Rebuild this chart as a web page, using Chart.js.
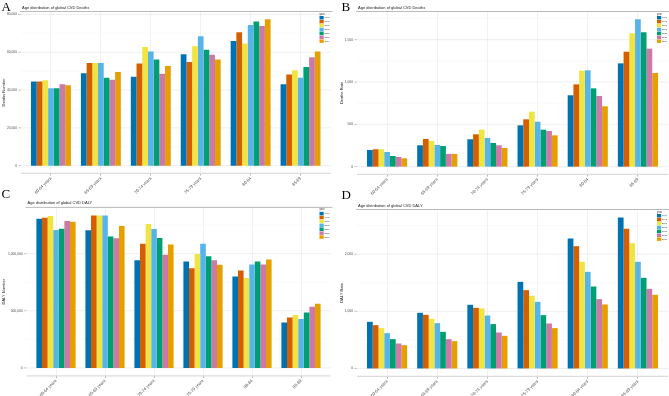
<!DOCTYPE html>
<html>
<head>
<meta charset="utf-8">
<script src="https://cdn.jsdelivr.net/npm/chart.js@4.4.1/dist/chart.umd.min.js"></script>
<style>
  html, body { margin: 0; padding: 0; background: #fff; }
  body { width: 669px; height: 396px; position: relative; overflow: hidden; }
  canvas { position: absolute; }
  .tag { position: absolute; font-family: 'Liberation Serif', 'DejaVu Serif', serif; font-size: 13px; line-height: 13px; color: #000; }
</style>
</head>
<body>
<canvas id="deathsNumber" width="335" height="197" style="left:0;top:0"></canvas>
<canvas id="deathsRate" width="334" height="197" style="left:335px;top:0"></canvas>
<canvas id="dalyNumber" width="335" height="199" style="left:0;top:197px"></canvas>
<canvas id="dalyRate" width="334" height="199" style="left:335px;top:197px"></canvas>
<div class="tag" style="left:1.5px;top:-0.5px">A</div>
<div class="tag" style="left:341.5px;top:-0.5px">B</div>
<div class="tag" style="left:1.5px;top:187px">C</div>
<div class="tag" style="left:341.5px;top:188px">D</div>
<script>
const years = ['1990', '1995', '2000', '2005', '2010', '2015', '2019'];
const agesShort = ['60-64 years', '65-69 years', '70-74 years', '75-79 years', '80-84', '85-89'];
const agesLong = ['60-64 years', '65-69 years', '70-74 years', '75-79 years', '80-84 years', '85-89 years'];
const palette = ['#0072B2', '#D55E00', '#F0E442', '#56B4E9', '#009E73', '#CC79A7', '#E69F00'];

// one row per age group, one column per year
const deathsNumber = [
  [44500, 44500, 45200, 41000, 41000, 43100, 42600],
  [48900, 54300, 54300, 54300, 46500, 45400, 49600],
  [47000, 54100, 62700, 60400, 56200, 48600, 52700],
  [58900, 54800, 63200, 68500, 61300, 58700, 56100],
  [66000, 70600, 64600, 74400, 76300, 73900, 77400],
  [43100, 48200, 50500, 46500, 52200, 57300, 60400]
];
const deathsRate = [
  [197, 205, 205, 173, 126, 114, 98],
  [252, 327, 303, 256, 244, 150, 150],
  [323, 382, 437, 339, 280, 252, 220],
  [488, 559, 650, 531, 437, 421, 370],
  [843, 972, 1134, 1138, 925, 835, 713],
  [1220, 1358, 1575, 1740, 1587, 1394, 1106]
];
const dalyNumber = [
  [1305000, 1314000, 1329000, 1207000, 1219000, 1285000, 1280000],
  [1205000, 1334000, 1334000, 1334000, 1150000, 1135000, 1242000],
  [942000, 1086000, 1259000, 1216000, 1138000, 991000, 1081000],
  [931000, 873000, 997000, 1086000, 977000, 942000, 902000],
  [801000, 853000, 787000, 905000, 931000, 905000, 948000],
  [398000, 441000, 464000, 429000, 484000, 536000, 562000]
];
const dalyRate = [
  [816, 758, 706, 618, 513, 437, 408],
  [974, 939, 869, 793, 641, 513, 478],
  [1114, 1061, 1050, 927, 776, 630, 571],
  [1516, 1370, 1271, 1166, 933, 787, 706],
  [2274, 2140, 1866, 1691, 1434, 1213, 1120],
  [2641, 2443, 2192, 1866, 1586, 1394, 1289]
];

const FONT = "'Liberation Sans', Arial, sans-serif";

// ggplot-like bits: title, frame lines, y grid + tick marks, legend
const panelDecor = {
  id: 'panelDecor',
  beforeDatasetsDraw(chart, args, opts) {
    const {ctx, chartArea: a, scales: {x, y}} = chart;
    const ext = (a.right - a.left) / x.ticks.length * 0.1;
    ctx.save();
    for (let v = 0; v <= y.max; v += opts.step / 2) {
      const py = y.getPixelForValue(v);
      const major = Math.abs(v / opts.step - Math.round(v / opts.step)) < 1e-6;
      ctx.strokeStyle = major ? '#EBEBEB' : '#F4F4F4';
      ctx.lineWidth = major ? 0.8 : 0.5;
      ctx.beginPath();
      ctx.moveTo(a.left - ext, py);
      ctx.lineTo(a.right + ext, py);
      ctx.stroke();
      if (major) {
        ctx.strokeStyle = '#A0A0A0';
        ctx.lineWidth = 0.6;
        ctx.beginPath();
        ctx.moveTo(a.left - ext - 2.7, py);
        ctx.lineTo(a.left - ext, py);
        ctx.stroke();
      }
    }
    ctx.restore();
  },
  afterDraw(chart, args, opts) {
    const {ctx, chartArea: a, scales: {x}} = chart;
    const ext = (a.right - a.left) / x.ticks.length * 0.1;
    ctx.save();
    // x axis line
    ctx.strokeStyle = '#DCDCDC';
    ctx.lineWidth = 1.3;
    ctx.beginPath();
    ctx.moveTo(a.left - ext, a.bottom + 0.4);
    ctx.lineTo(a.right + ext, a.bottom + 0.4);
    ctx.stroke();
    // top rule under the title
    ctx.strokeStyle = '#8C8C8C';
    ctx.lineWidth = 0.6;
    ctx.beginPath();
    ctx.moveTo(a.left - ext - 1, a.top - 0.5);
    ctx.lineTo(a.right + ext + 2, a.top - 0.5);
    ctx.stroke();
    // title
    ctx.fillStyle = '#1A1A1A';
    ctx.font = '4px ' + FONT;
    ctx.textBaseline = 'middle';
    ctx.textAlign = 'left';
    ctx.fillText(opts.title, a.left - ext + 1, a.top - 4.5);
    // legend
    const bx = a.right - 6;
    ctx.font = '2.6px ' + FONT;
    ctx.fillStyle = '#333';
    ctx.fillText('year', bx, a.top + 1.8);
    chart.data.datasets.forEach((ds, j) => {
      const by = a.top + 4 + j * 3.9;
      ctx.fillStyle = ds.backgroundColor;
      ctx.fillRect(bx, by, 4.2, 3.5);
      ctx.fillStyle = '#333';
      ctx.font = '2.3px ' + FONT;
      ctx.fillText(ds.label, bx + 5, by + 1.8);
    });
    ctx.restore();
  }
};

function makeChart(id, labels, rows, yTitle, step, title, area, titlePad) {
  const canvas = document.getElementById(id);
  const W = canvas.width, H = canvas.height;
  const dataMax = Math.max(...rows.flat());
  const ext = (area.right - area.left) / labels.length * 0.1;
  const majors = [];
  for (let v = 0; v <= dataMax * 1.05; v += step) majors.push(v);

  return new Chart(canvas.getContext('2d'), {
    type: 'bar',
    data: {
      labels: labels,
      datasets: years.map((yr, j) => ({
        label: yr,
        data: rows.map(r => r[j]),
        backgroundColor: palette[j],
        borderWidth: 0,
        categoryPercentage: 0.8,
        barPercentage: 1.0
      }))
    },
    options: {
      responsive: false,
      animation: false,
      layout: { padding: { left: 0, top: area.top, right: W - area.right, bottom: 0 } },
      plugins: {
        legend: { display: false },
        tooltip: { enabled: false },
        panelDecor: { title: title, step: step }
      },
      scales: {
        x: {
          type: 'category',
          offset: true,
          afterFit: s => { s.height = H - area.bottom; },
          grid: { offset: false, color: '#EEEEEE', lineWidth: 0.8, drawTicks: true, tickLength: 2.5, tickColor: '#A0A0A0' },
          border: { display: false },
          ticks: { minRotation: 45, maxRotation: 45, autoSkip: false, padding: 0.5, color: '#4D4D4D', font: { size: 4.2, family: FONT } }
        },
        y: {
          type: 'linear',
          min: -dataMax * 0.05,
          max: dataMax * 1.05,
          afterFit: s => { s.width = area.left; },
          afterBuildTicks: s => { s.ticks = majors.map(v => ({ value: v })); },
          grid: { display: false, drawTicks: false },
          border: { display: false },
          ticks: {
            padding: ext + 4,
            color: '#4D4D4D',
            font: { size: 3.3, family: FONT },
            callback: v => v.toLocaleString('en-US')
          },
          title: { display: true, text: yTitle, color: '#1A1A1A', font: { size: 4, family: FONT }, padding: { top: titlePad, bottom: 0 } }
        }
      }
    },
    plugins: [panelDecor]
  });
}

makeChart('deathsNumber', agesShort, deathsNumber, 'Deaths Number', 20000,
  'Age distribution of global CVD Deaths', { left: 26, right: 325.5, top: 12, bottom: 173 }, 1.6);
makeChart('deathsRate', agesShort, deathsRate, 'Deaths Rate', 500,
  'Age distribution of global CVD Deaths', { left: 27, right: 328, top: 12, bottom: 174 }, 4.6);
makeChart('dalyNumber', agesShort, dalyNumber, 'DALY Number', 500000,
  'Age distribution of global CVD DALY', { left: 31.5, right: 325.5, top: 9.5, bottom: 178.5 }, 1.6);
makeChart('dalyRate', agesLong, dalyRate, 'DALY Rate', 1000,
  'Age distribution of global CVD DALY', { left: 27, right: 328, top: 13, bottom: 179 }, 4.9);
</script>
</body>
</html>
